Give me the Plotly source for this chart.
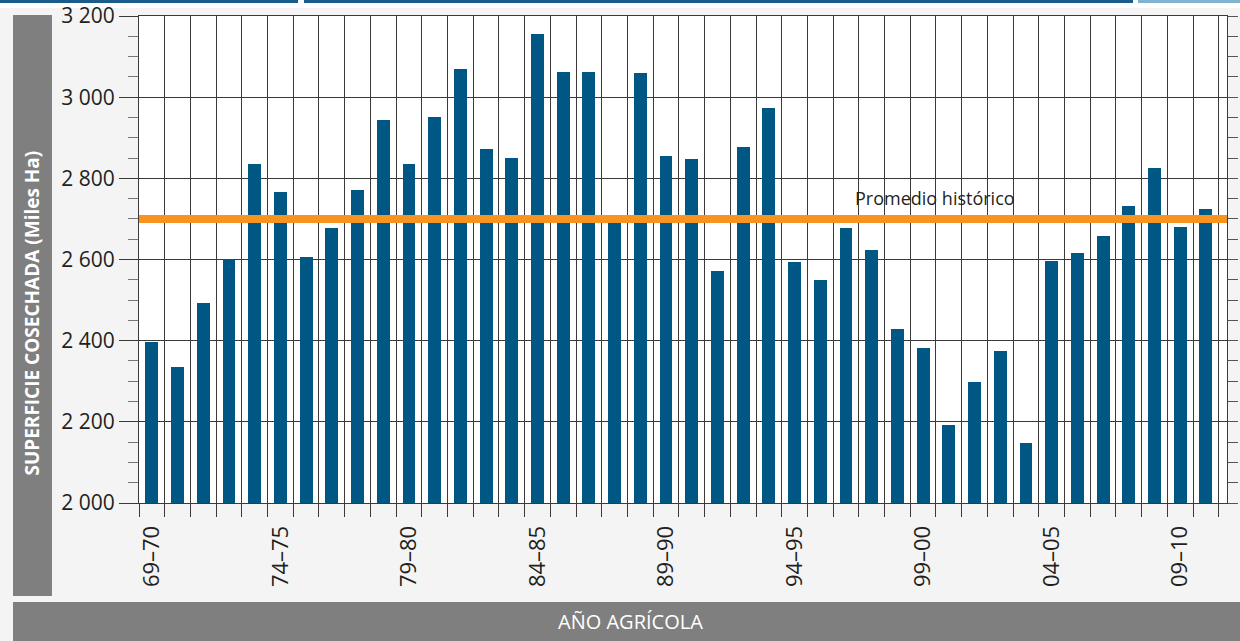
import plotly.graph_objects as go

campaigns = ["69–70", "70–71", "71–72", "72–73", "73–74", "74–75", "75–76", "76–77", "77–78", "78–79",
             "79–80", "80–81", "81–82", "82–83", "83–84", "84–85", "85–86", "86–87", "87–88", "88–89",
             "89–90", "90–91", "91–92", "92–93", "93–94", "94–95", "95–96", "96–97", "97–98", "98–99",
             "99–00", "00–01", "01–02", "02–03", "03–04", "04–05", "05–06", "06–07", "07–08", "08–09",
             "09–10", "10–11"]
superficie = [2396, 2335, 2493, 2601, 2835, 2766, 2606, 2678, 2771, 2944,
              2835, 2951, 3069, 2872, 2850, 3156, 3062, 3062, 2705, 3060,
              2855, 2848, 2572, 2877, 2973, 2594, 2549, 2678, 2623, 2429,
              2382, 2192, 2298, 2375, 2148, 2596, 2616, 2658, 2732, 2825,
              2680, 2724]
promedio = 2700
label_every = 5
y_ticks = [2000, 2200, 2400, 2600, 2800, 3000, 3200]

idx = list(range(len(campaigns)))
label_pos = idx[::label_every]
label_txt = [campaigns[i] for i in label_pos]
xr = [-0.5, len(campaigns) - 0.18]

BLUE = "#005784"
ORANGE = "#f7931e"
GRID = "#3a3a3a"
TXT = "#231f20"
BAND = "#7f7f80"
FONT = "Open Sans"

fig = go.Figure()
fig.add_trace(go.Bar(x=idx, y=superficie, width=0.5, marker=dict(color=BLUE, line=dict(width=0)),
                     showlegend=False, hoverinfo="y"))
# invisible trace to activate right axis
fig.add_trace(go.Scatter(x=[idx[0]], y=[y_ticks[0]], yaxis="y2", mode="markers",
                         marker=dict(opacity=0), showlegend=False, hoverinfo="skip"))

fig.add_shape(type="line", xref="paper", x0=0, x1=1, yref="y", y0=promedio, y1=promedio,
              line=dict(color=ORANGE, width=8), layer="above")

fig.add_annotation(x=30.45, y=promedio + 16, xref="x", yref="y", text="Promedio histórico",
                   showarrow=False, xanchor="center", yanchor="bottom",
                   font=dict(family=FONT, size=18, color=TXT))

# Side bands
fig.add_shape(type="rect", xref="paper", yref="paper", x0=-0.1158, x1=-0.0800, y0=-0.191, y1=1.002,
              fillcolor=BAND, line=dict(width=0), layer="below")
fig.add_shape(type="rect", xref="paper", yref="paper", x0=-0.1158, x1=1.02, y0=-0.2834, y1=-0.2033,
              fillcolor=BAND, line=dict(width=0), layer="below")
fig.add_annotation(xref="paper", yref="paper", x=-0.0979, y=0.39, text="SUPERFICIE COSECHADA (Miles Ha)",
                   textangle=-90, showarrow=False, xanchor="center", yanchor="middle",
                   font=dict(family=FONT, size=19, color="white", weight=700))
fig.add_annotation(xref="paper", yref="paper", x=0.452, y=-0.2434, text="AÑO AGRÍCOLA",
                   showarrow=False, xanchor="center", yanchor="middle",
                   font=dict(family=FONT, size=20, color="white"))

# Top decoration
fig.add_shape(type="rect", xref="paper", yref="paper", x0=-0.13, x1=1.02, y0=1.0165, y1=1.034,
              fillcolor="white", line=dict(width=0), layer="below")
for x0, x1, c in [(0, 298, "#1b5d8a"), (304, 1133, "#1b5d8a"), (1138, 1240, "#7fb3d0")]:
    fig.add_shape(type="rect", xref="paper", yref="paper",
                  x0=(x0 - 139) / 1088, x1=(x1 - 139) / 1088, y0=1.0267, y1=1.034,
                  fillcolor=c, line=dict(width=0), layer="below")

fig.update_layout(
    width=1240, height=641,
    margin=dict(l=139, r=13, t=16, b=138, autoexpand=False),
    paper_bgcolor="#f4f4f4", plot_bgcolor="white",
    font=dict(family=FONT, color=TXT),
    bargap=0,
    xaxis=dict(
        range=xr, tickmode="array", tickvals=label_pos, ticktext=label_txt, tickangle=-90,
        tickfont=dict(size=22, color=TXT), ticks="outside", ticklen=13, tickcolor="rgba(0,0,0,0)",
        showgrid=False, zeroline=False, showline=True, linecolor=GRID, linewidth=1, mirror=True,
        minor=dict(tick0=-0.5, dtick=1, showgrid=True, gridcolor=GRID, gridwidth=1,
                   ticks="outside", ticklen=13, tickcolor=GRID),
        fixedrange=True,
    ),
    yaxis=dict(
        range=[y_ticks[0], y_ticks[-1]], tickmode="array", tickvals=y_ticks,
        ticktext=[f"{v:,}".replace(",", " ") for v in y_ticks],
        tickfont=dict(size=21, color=TXT), ticks="outside", ticklen=19, tickcolor=GRID,
        showgrid=True, gridcolor=GRID, gridwidth=1, zeroline=False,
        showline=True, linecolor=GRID, linewidth=1,
        minor=dict(dtick=50, ticks="outside", ticklen=10, tickcolor="#777", showgrid=False),
    ),
    yaxis2=dict(
        overlaying="y", side="right", range=[y_ticks[0], y_ticks[-1]], tickmode="linear",
        tick0=y_ticks[0], dtick=50, ticks="outside", ticklen=10, tickcolor="#555",
        showticklabels=False, showgrid=False, zeroline=False, showline=True, linecolor=GRID,
    ),
)

fig.write_html("out.html", config={"displayModeBar": False},
               post_script="document.body.style.margin='0';document.body.style.background='#f4f4f4';")
